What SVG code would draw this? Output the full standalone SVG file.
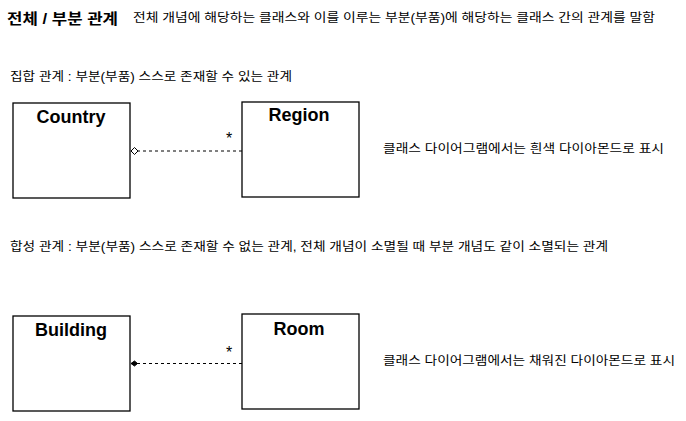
<svg xmlns="http://www.w3.org/2000/svg" width="686" height="421" viewBox="0 0 686 421">
<style>
.t{font-family:"Liberation Sans","Noto Sans CJK KR",sans-serif;font-size:12px;fill:#000}
.h{font-family:"Liberation Sans","Noto Sans CJK KR",sans-serif;font-size:15px;font-weight:bold;fill:#000}
.n{font-family:"Liberation Sans","Noto Sans CJK KR",sans-serif;font-size:18px;font-weight:bold;fill:#000;text-anchor:middle}
.s{font-family:"Liberation Sans",sans-serif;font-size:16px;fill:#000}
.box{fill:#fff;stroke:#000;stroke-width:1.3}
.c{stroke:#000;stroke-width:1;stroke-dasharray:3,3;fill:none}
</style>
<defs>
<marker id="od" markerWidth="10" markerHeight="9" refX="1" refY="4.5" orient="auto" markerUnits="userSpaceOnUse"><path d="M1,4.5 L4.5,1 L8,4.5 L4.5,8 Z" fill="#fff" stroke="#000" stroke-width="1"/></marker>
<marker id="fd" markerWidth="10" markerHeight="8" refX="1" refY="4" orient="auto" markerUnits="userSpaceOnUse"><path d="M1,4 L4.5,1.5 L7.5,4 L4.5,6.5 Z" fill="#000" stroke="#000" stroke-width="1"/></marker>
</defs>
<rect width="686" height="421" fill="#fff"/>
<text class="h" x="7" y="24" textLength="111" lengthAdjust="spacingAndGlyphs">전체 / 부분 관계</text>
<text class="t" x="133" y="22" textLength="522" lengthAdjust="spacingAndGlyphs">전체 개념에 해당하는 클래스와  이를 이루는 부분(부품)에 해당하는 클래스 간의 관계를 말함</text>
<text class="t" x="10" y="81" textLength="282" lengthAdjust="spacingAndGlyphs">집합 관계 : 부분(부품) 스스로 존재할 수 있는 관계</text>
<text class="t" x="10" y="251" textLength="598" lengthAdjust="spacingAndGlyphs">합성 관계 : 부분(부품) 스스로 존재할 수 없는 관계, 전체 개념이 소멸될 때 부분 개념도 같이 소멸되는 관계</text>
<text class="t" x="383" y="153" textLength="281" lengthAdjust="spacingAndGlyphs">클래스 다이어그램에서는 흰색 다이아몬드로 표시</text>
<text class="t" x="383" y="365" textLength="292" lengthAdjust="spacingAndGlyphs">클래스 다이어그램에서는 채워진 다이아몬드로 표시</text>
<g id="country"><rect class="box" x="13" y="103" width="117" height="95"/><text class="n" x="71" y="123">Country</text></g>
<g id="region"><rect class="box" x="242" y="102" width="117" height="95"/><text class="n" x="299" y="121">Region</text></g>
<g id="building"><rect class="box" x="13" y="316" width="117" height="95"/><text class="n" x="71" y="336">Building</text></g>
<g id="room"><rect class="box" x="242" y="314" width="117" height="95"/><text class="n" x="299" y="335">Room</text></g>
<g id="connectors">
<path class="c" d="M131,151 L242,151" marker-start="url(#od)"/>
<text class="s" x="226" y="144">*</text>
<path class="c" d="M131,363.5 L242,363.5" marker-start="url(#fd)"/>
<text class="s" x="226" y="358">*</text>
</g>
</svg>
